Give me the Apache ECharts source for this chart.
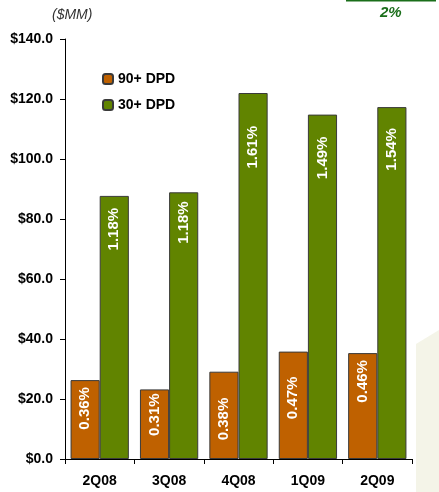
<!DOCTYPE html>
<html>
<head>
<meta charset="utf-8">
<script src="https://cdn.jsdelivr.net/npm/echarts@6/dist/echarts.min.js"></script>
<style>
html,body{margin:0;padding:0;background:#fff;}
#chart{width:439px;height:492px;}
</style>
</head>
<body>
<div id="chart"></div>
<script>
const categories = ['2Q08', '3Q08', '4Q08', '1Q09', '2Q09'];
const dpd90Values = [26.3, 23.2, 29.1, 35.8, 35.3];
const dpd30Values = [87.7, 88.9, 122.0, 114.8, 117.3];
const dpd90Pct = ['0.36%', '0.31%', '0.38%', '0.47%', '0.46%'];
const dpd30Pct = ['1.18%', '1.18%', '1.61%', '1.49%', '1.54%'];
const yTicks = [0, 20, 40, 60, 80, 100, 120, 140];
const dpd90LabelDist = [7, 4, 26, 25, 7];
const dpd30LabelDist = [12, 9, 33, 22, 21];

const FONT = 'Liberation Sans, Arial, sans-serif';

function makeData(vals, pcts, dists) {
  return vals.map((v, i) => ({
    value: v,
    label: { formatter: pcts[i], distance: dists[i] }
  }));
}

const labelBase = {
  show: true,
  position: 'insideTop',
  rotate: 90,
  align: 'right',
  verticalAlign: 'middle',
  color: '#fff',
  fontFamily: FONT,
  fontWeight: 'bold',
  fontSize: 15
};

const chart = echarts.init(document.getElementById('chart'), null, { renderer: 'canvas' });
chart.setOption({
  animation: false,
  backgroundColor: '#fff',
  textStyle: { fontFamily: FONT },
  graphic: [
    { type: 'polygon', z: -10, shape: { points: [[416, 344], [439, 330], [439, 492], [416, 492]] }, style: { fill: '#f4f4e8' } },
    { type: 'line', shape: { x1: 346, y1: 0.5, x2: 436, y2: 0.5 }, style: { stroke: '#1a6e1a', lineWidth: 2 } },
    { type: 'text', left: 380, top: 5, style: { text: '2%', fill: '#1a6e1a', font: 'italic bold 15px ' + FONT } },
    { type: 'text', left: 52, top: 8, style: { text: '($MM)', fill: '#333', font: 'italic 14px ' + FONT } }
  ],
  legend: {
    orient: 'vertical',
    left: 97,
    top: 67,
    itemWidth: 10,
    itemHeight: 10,
    itemGap: 12,
    textStyle: { fontFamily: FONT, fontWeight: 'bold', fontSize: 14, color: '#000' },
    data: ['90+ DPD', '30+ DPD']
  },
  grid: { left: 65, right: 27, top: 39, bottom: 33 },
  xAxis: {
    type: 'category',
    data: categories,
    axisLine: { lineStyle: { color: '#000', width: 1 } },
    axisTick: { show: true, length: 5, lineStyle: { color: '#000' } },
    axisLabel: { margin: 15, color: '#000', fontFamily: FONT, fontWeight: 'bold', fontSize: 14 }
  },
  yAxis: {
    type: 'value',
    min: yTicks[0],
    max: yTicks[yTicks.length - 1],
    interval: yTicks[1] - yTicks[0],
    splitLine: { show: false },
    axisLine: { show: true, lineStyle: { color: '#000', width: 1 } },
    axisTick: { show: true, length: 5, lineStyle: { color: '#000' } },
    axisLabel: {
      margin: 12, color: '#000', fontFamily: FONT, fontWeight: 'bold', fontSize: 14,
      formatter: v => '$' + v.toFixed(1)
    }
  },
  series: [
    {
      name: '90+ DPD',
      type: 'bar',
      barGap: '0%',
      barCategoryGap: '16%',
      itemStyle: { color: '#BF6100', borderColor: '#3a3a3a', borderWidth: 1 },
      label: labelBase,
      data: makeData(dpd90Values, dpd90Pct, dpd90LabelDist)
    },
    {
      name: '30+ DPD',
      type: 'bar',
      barGap: '0%',
      barCategoryGap: '16%',
      itemStyle: { color: '#618400', borderColor: '#3a3a3a', borderWidth: 1 },
      label: labelBase,
      data: makeData(dpd30Values, dpd30Pct, dpd30LabelDist)
    }
  ]
});
</script>
</body>
</html>
